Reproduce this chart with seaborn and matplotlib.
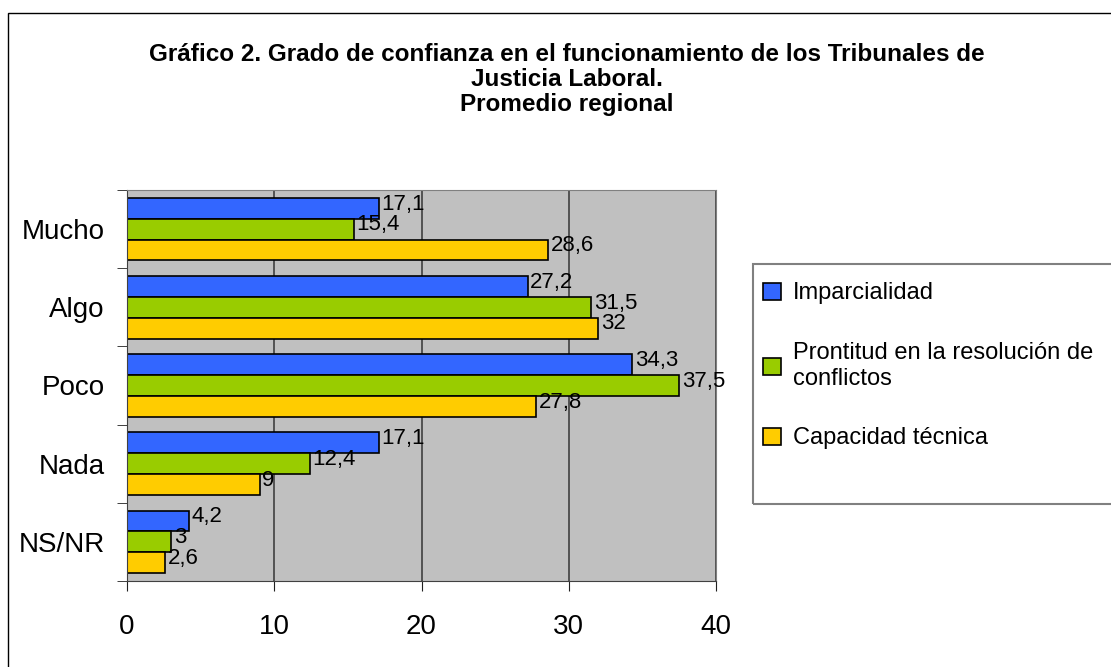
import numpy as np
import pandas as pd
import matplotlib
matplotlib.use("Agg")
import matplotlib.pyplot as plt
from matplotlib.patches import Rectangle
import seaborn as sns

# ── Data ──────────────────────────────────────────────────────────────────────
categories = ["Mucho", "Algo", "Poco", "Nada", "NS/NR"]
series = ["Imparcialidad", "Prontitud en la resolución de\nconflictos", "Capacidad técnica"]
imparcialidad = [17.1, 27.2, 34.3, 17.1, 4.2]
prontitud = [15.4, 31.5, 37.5, 12.4, 3.0]
capacidad = [28.6, 32.0, 27.8, 9.0, 2.6]
x_ticks = [0, 10, 20, 30, 40]
colors = ["#3366FF", "#99CC00", "#FFCC00"]

df = pd.DataFrame({
    "categoria": categories * 3,
    "serie": [s for s in series for _ in categories],
    "valor": imparcialidad + prontitud + capacidad,
})

plt.rcParams["font.family"] = ["Liberation Sans", "DejaVu Sans"]

W, H = 1111, 667
fig = plt.figure(figsize=(W / 100, H / 100), dpi=100)
ax = fig.add_axes([127 / W, 1 - 581 / H, 589 / W, 391 / H])

sns.barplot(
    data=df, y="categoria", x="valor", hue="serie", order=categories,
    hue_order=series, palette=colors, saturation=1, orient="h", ax=ax,
    edgecolor="black", linewidth=1.2, width=0.8, legend=False,
)

ax.set_facecolor("#C0C0C0")
ax.set_xlim(0, 40)
ax.set_ylim(4.5, -0.5)
ax.set_xticks(x_ticks)
ax.set_xticklabels([str(t) for t in x_ticks], fontsize=20)
ax.set_xlabel("")
ax.set_ylabel("")
ax.tick_params(axis="y", which="major", length=0, labelsize=20, pad=16)
ax.set_yticks(np.arange(-0.5, len(categories)), minor=True)
ax.tick_params(axis="y", which="minor", length=7, color="#202020")
ax.tick_params(axis="x", length=7, color="#202020", pad=17)
ax.grid(axis="x", color="#404040", lw=1.2)
ax.set_axisbelow(True)
for side in ["left", "bottom"]:
    ax.spines[side].set_color("#404040")
for side in ["top", "right"]:
    ax.spines[side].set_color("#808080")

# value labels with comma decimal separator
for cont in ax.containers:
    for bar in cont:
        v = bar.get_width()
        lab = f"{v:g}".replace(".", ",")
        ax.annotate(lab, (v, bar.get_y() + bar.get_height() / 2),
                    xytext=(2, 3), textcoords="offset points",
                    ha="left", va="center", fontsize=16)

# title
fig.text(567 / W, 1 - 43 / H,
         "Gráfico 2. Grado de confianza en el funcionamiento de los Tribunales de\n"
         "Justicia Laboral.\nPromedio regional",
         ha="center", va="top", fontsize=17.5, fontweight="bold", linespacing=1.1)

# legend box (runs past the right edge) + entries
fig.patches.append(Rectangle((753 / W, 1 - 504 / H), 500 / W, 240 / H,
                             transform=fig.transFigure, fill=False,
                             edgecolor="#808080", lw=1.5))
handles = [Rectangle((0, 0), 1, 1, facecolor=c, edgecolor="black", lw=1.2) for c in colors]
fig.legend(handles, series, loc="upper left",
           bbox_to_anchor=(754 / W, 1 - 273 / H), frameon=False,
           fontsize=17, handlelength=0.75, handleheight=0.75, handletextpad=0.5,
           labelspacing=1.6, borderaxespad=0)

# outer border (right and bottom edges fall outside the picture)
fig.patches.append(Rectangle((8 / W, -50 / H), 1200 / W, 704 / H,
                             transform=fig.transFigure, fill=False,
                             edgecolor="black", lw=1))

fig.savefig("out.png", dpi=100)
